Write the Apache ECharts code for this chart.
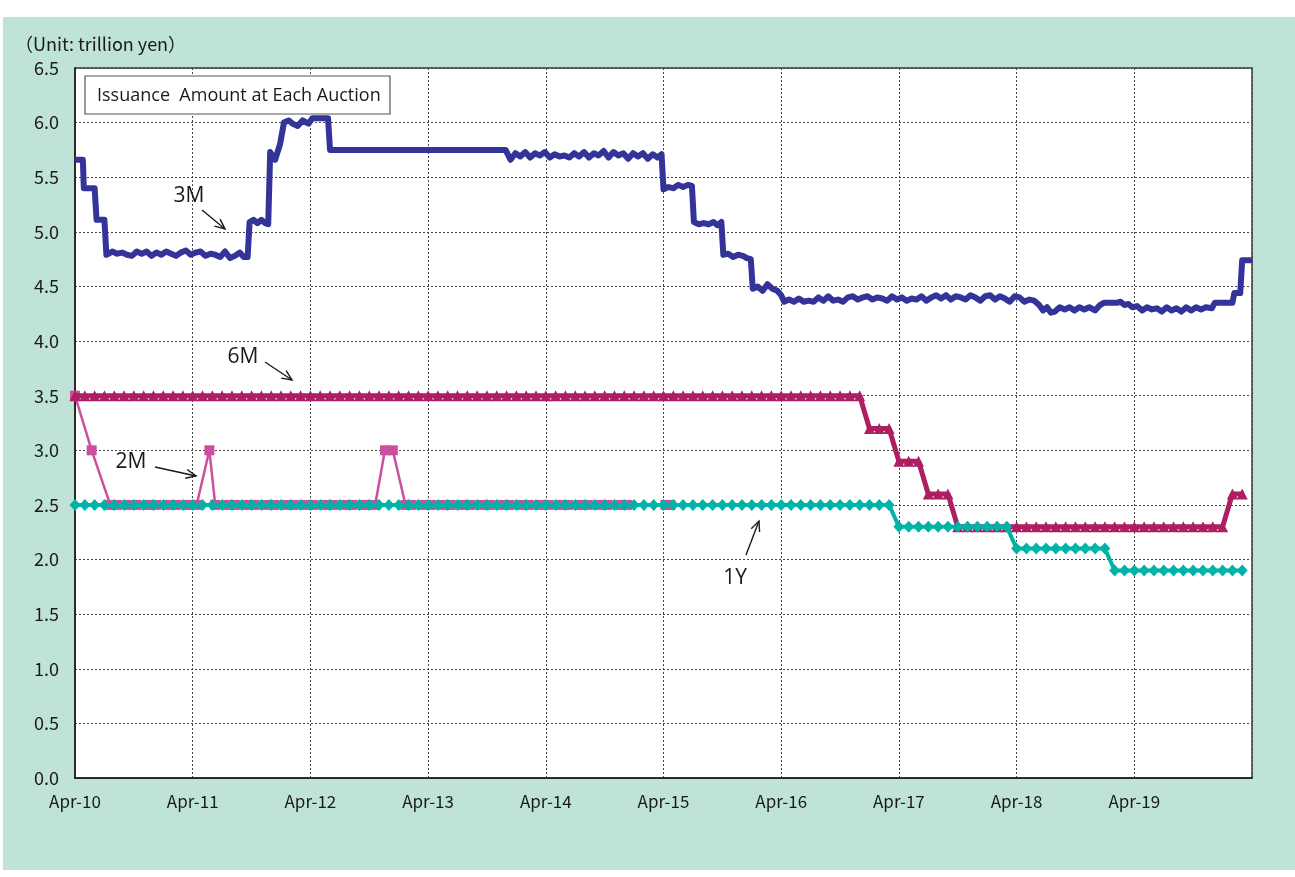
<!DOCTYPE html>
<html>
<head>
<meta charset="utf-8" />
<title>Issuance Amount at Each Auction</title>
<script src="https://cdn.jsdelivr.net/npm/echarts@6/dist/echarts.min.js"></script>
<style>
  html, body { margin: 0; padding: 0; background: #fff; overflow: hidden; }
  #chart { position: absolute; left: 3px; top: 17px; width: 1292px; height: 853px; }
</style>
</head>
<body>
<div id="chart"></div>
<script type="text/javascript">
// x values are months counted from Apr-2010
var xTickLabels = ['Apr-10', 'Apr-11', 'Apr-12', 'Apr-13', 'Apr-14', 'Apr-15', 'Apr-16', 'Apr-17', 'Apr-18', 'Apr-19', ''];

// 3M (auction by auction)
var threeMMonths = [
  0, 0.8, 0.9, 2.0, 2.2, 3.0, 3.2,
  3.8, 4.3, 4.8, 5.3, 5.8, 6.3, 6.8, 7.3, 7.8, 8.3, 8.8, 9.3, 9.8, 10.3, 10.8, 11.3, 11.8, 12.3, 12.8, 13.3, 13.8, 14.3, 14.8, 15.3, 15.8, 16.3, 16.8, 17.2, 17.6,
  17.8, 18.2, 18.6, 19.0, 19.4, 19.7,
  19.9, 20.4, 20.9, 21.3, 21.8, 22.2, 22.7, 23.2, 23.8, 24.2, 25.8,
  26.0, 43.9,
  44.4, 44.9, 45.4, 45.9, 46.4, 46.9, 47.4, 47.9, 48.4, 48.9,
  49.4, 49.9, 50.4, 50.9, 51.4, 51.9, 52.4, 52.9, 53.4, 53.9,
  54.4, 54.9, 55.4, 55.9, 56.4, 56.9, 57.4, 57.9, 58.4, 58.9,
  59.4, 59.8,
  60.0, 60.5, 61.0, 61.5, 62.0, 62.5, 62.9,
  63.1, 63.6, 64.1, 64.6, 65.1, 65.5, 65.9,
  66.1, 66.6, 67.1, 67.6, 68.1, 68.5, 68.9,
  69.1, 69.6, 70.1, 70.6, 71.1, 71.6, 72.0,
  72.3, 72.8, 73.3, 73.8, 74.3, 74.8, 75.3, 75.8, 76.3, 76.8,
  77.3, 77.8, 78.3, 78.8, 79.3, 79.8, 80.3, 80.8, 81.3, 81.8,
  82.3, 82.8, 83.3, 83.8, 84.3, 84.8, 85.3, 85.8, 86.3, 86.8,
  87.3, 87.8, 88.3, 88.8, 89.3, 89.8, 90.3, 90.8, 91.3, 91.8,
  92.3, 92.8, 93.3, 93.8, 94.3, 94.8, 95.3, 95.8, 96.3, 96.8,
  97.3, 97.8,
  98.3, 98.7, 99.1, 99.5, 99.9, 100.4, 100.9, 101.4, 101.9, 102.4, 102.9, 103.4, 104.0, 104.5,
  104.9, 106.2, 106.6, 107.0, 107.4,
  107.8, 108.3, 108.8, 109.3, 109.8, 110.3, 110.8, 111.3, 111.8, 112.3, 112.8, 113.3, 113.8, 114.3, 114.8, 115.3, 115.9,
  116.2, 118.0, 118.2, 118.8, 119.0, 120
];
var threeMValues = [
  5.66, 5.66, 5.40, 5.40, 5.11, 5.11, 4.79,
  4.82, 4.80, 4.81, 4.79, 4.78, 4.82, 4.80, 4.82, 4.78, 4.81, 4.79, 4.82, 4.80, 4.78, 4.81, 4.83, 4.79, 4.81, 4.82, 4.78, 4.80, 4.79, 4.77, 4.82, 4.76, 4.78, 4.81, 4.77, 4.77,
  5.09, 5.11, 5.08, 5.11, 5.08, 5.07,
  5.73, 5.66, 5.80, 6.00, 6.02, 5.99, 5.97, 6.02, 5.99, 6.04, 6.04,
  5.75, 5.75,
  5.66, 5.72, 5.69, 5.73, 5.68, 5.72, 5.70, 5.73, 5.68, 5.71,
  5.69, 5.70, 5.68, 5.72, 5.69, 5.73, 5.68, 5.72, 5.70, 5.74,
  5.68, 5.73, 5.70, 5.72, 5.67, 5.72, 5.69, 5.72, 5.67, 5.71,
  5.68, 5.71,
  5.39, 5.41, 5.40, 5.43, 5.41, 5.43, 5.42,
  5.09, 5.07, 5.08, 5.07, 5.09, 5.06, 5.09,
  4.79, 4.80, 4.77, 4.79, 4.78, 4.76, 4.75,
  4.48, 4.50, 4.46, 4.52, 4.48, 4.46, 4.42,
  4.36, 4.38, 4.36, 4.39, 4.36, 4.37, 4.36, 4.40, 4.37, 4.41,
  4.37, 4.38, 4.36, 4.40, 4.41, 4.38, 4.40, 4.41, 4.38, 4.40,
  4.39, 4.37, 4.41, 4.38, 4.40, 4.37, 4.39, 4.38, 4.41, 4.37,
  4.40, 4.42, 4.39, 4.42, 4.38, 4.41, 4.40, 4.38, 4.42, 4.40,
  4.37, 4.41, 4.42, 4.38, 4.41, 4.39, 4.36, 4.41, 4.40, 4.36,
  4.38, 4.37,
  4.33, 4.28, 4.31, 4.26, 4.27, 4.31, 4.29, 4.31, 4.28, 4.31, 4.29, 4.31, 4.28, 4.33,
  4.35, 4.35, 4.36, 4.33, 4.34,
  4.31, 4.32, 4.28, 4.31, 4.29, 4.30, 4.27, 4.31, 4.28, 4.30, 4.27, 4.31, 4.28, 4.31, 4.29, 4.31, 4.30,
  4.35, 4.35, 4.44, 4.44, 4.74, 4.74
];

// 6M and 1Y: one value per month, Apr-10 .. Mar-20
var sixMValues = [
  3.5, 3.5, 3.5, 3.5, 3.5, 3.5, 3.5, 3.5, 3.5, 3.5, 3.5, 3.5,
  3.5, 3.5, 3.5, 3.5, 3.5, 3.5, 3.5, 3.5, 3.5, 3.5, 3.5, 3.5,
  3.5, 3.5, 3.5, 3.5, 3.5, 3.5, 3.5, 3.5, 3.5, 3.5, 3.5, 3.5,
  3.5, 3.5, 3.5, 3.5, 3.5, 3.5, 3.5, 3.5, 3.5, 3.5, 3.5, 3.5,
  3.5, 3.5, 3.5, 3.5, 3.5, 3.5, 3.5, 3.5, 3.5, 3.5, 3.5, 3.5,
  3.5, 3.5, 3.5, 3.5, 3.5, 3.5, 3.5, 3.5, 3.5, 3.5, 3.5, 3.5,
  3.5, 3.5, 3.5, 3.5, 3.5, 3.5, 3.5, 3.5, 3.5, 3.2, 3.2, 3.2,
  2.9, 2.9, 2.9, 2.6, 2.6, 2.6, 2.3, 2.3, 2.3, 2.3, 2.3, 2.3,
  2.3, 2.3, 2.3, 2.3, 2.3, 2.3, 2.3, 2.3, 2.3, 2.3, 2.3, 2.3,
  2.3, 2.3, 2.3, 2.3, 2.3, 2.3, 2.3, 2.3, 2.3, 2.3, 2.6, 2.6
];
var oneYValues = [
  2.5, 2.5, 2.5, 2.5, 2.5, 2.5, 2.5, 2.5, 2.5, 2.5, 2.5, 2.5,
  2.5, 2.5, 2.5, 2.5, 2.5, 2.5, 2.5, 2.5, 2.5, 2.5, 2.5, 2.5,
  2.5, 2.5, 2.5, 2.5, 2.5, 2.5, 2.5, 2.5, 2.5, 2.5, 2.5, 2.5,
  2.5, 2.5, 2.5, 2.5, 2.5, 2.5, 2.5, 2.5, 2.5, 2.5, 2.5, 2.5,
  2.5, 2.5, 2.5, 2.5, 2.5, 2.5, 2.5, 2.5, 2.5, 2.5, 2.5, 2.5,
  2.5, 2.5, 2.5, 2.5, 2.5, 2.5, 2.5, 2.5, 2.5, 2.5, 2.5, 2.5,
  2.5, 2.5, 2.5, 2.5, 2.5, 2.5, 2.5, 2.5, 2.5, 2.5, 2.5, 2.5,
  2.3, 2.3, 2.3, 2.3, 2.3, 2.3, 2.3, 2.3, 2.3, 2.3, 2.3, 2.3,
  2.1, 2.1, 2.1, 2.1, 2.1, 2.1, 2.1, 2.1, 2.1, 2.1, 1.9, 1.9,
  1.9, 1.9, 1.9, 1.9, 1.9, 1.9, 1.9, 1.9, 1.9, 1.9, 1.9, 1.9
];

// 2M (irregular auctions)
var twoMMonths = [
  0, 1.7,
  3.6, 4.3, 5.6, 6.3, 7.6, 8.3, 9.6, 10.3, 11.6, 12.4,
  13.7,
  14.3, 15.6, 16.3, 17.6, 18.3, 19.6, 20.3, 21.6, 22.3, 23.6, 24.3, 25.6, 26.3, 27.6, 28.3, 29.6, 30.6,
  31.6, 32.4,
  33.7, 34.3, 35.6, 36.3, 37.6, 38.3, 39.6, 40.3, 41.6, 42.3, 43.6, 44.3, 45.6, 46.3, 47.6, 48.3, 49.6, 50.3, 51.6, 52.3, 53.6, 54.3, 55.6, 56.3, 60.2, 60.7
];
var twoMValues = [
  3.5, 3.0,
  2.5, 2.5, 2.5, 2.5, 2.5, 2.5, 2.5, 2.5, 2.5, 2.5,
  3.0,
  2.5, 2.5, 2.5, 2.5, 2.5, 2.5, 2.5, 2.5, 2.5, 2.5, 2.5, 2.5, 2.5, 2.5, 2.5, 2.5, 2.5,
  3.0, 3.0,
  2.5, 2.5, 2.5, 2.5, 2.5, 2.5, 2.5, 2.5, 2.5, 2.5, 2.5, 2.5, 2.5, 2.5, 2.5, 2.5, 2.5, 2.5, 2.5, 2.5, 2.5, 2.5, 2.5, 2.5, 2.5, 2.5
];

function pairs(xs, ys) {
  var out = [];
  for (var i = 0; i < ys.length; i++) out.push([xs[i], ys[i]]);
  return out;
}
function monthly(ys) {
  var out = [];
  for (var i = 0; i < ys.length; i++) out.push([i, ys[i]]);
  return out;
}

// open arrow for the annotations
function arrow(x1, y1, x2, y2) {
  var a = Math.atan2(y2 - y1, x2 - x1), len = 11, sp = 0.42;
  return [
    { type: 'line', z: 50, shape: { x1: x1, y1: y1, x2: x2, y2: y2 }, style: { stroke: '#1a1a1a', lineWidth: 1.4 } },
    { type: 'polyline', z: 50, shape: { points: [
        [x2 - len * Math.cos(a - sp), y2 - len * Math.sin(a - sp)], [x2, y2],
        [x2 - len * Math.cos(a + sp), y2 - len * Math.sin(a + sp)]] },
      style: { stroke: '#1a1a1a', lineWidth: 1.4, fill: null } }
  ];
}
function label(text, x, y) {
  return { type: 'text', z: 50, style: { text: text, x: x, y: y, fill: '#1a1a1a',
    font: '21px "Open Sans", "Noto Sans", sans-serif', align: 'center', verticalAlign: 'middle',
    textAlign: 'center', textVerticalAlign: 'middle' } };
}

var tickFont = 'Noto Sans CJK JP';
var myChart = echarts.init(document.getElementById('chart'));

var option = {
  backgroundColor: '#bfe3d8',
  animation: false,
  grid: {
    left: 72, right: 43, top: 51, bottom: 92,
    show: true, backgroundColor: '#ffffff', borderColor: '#3a3a3a', borderWidth: 1.5
  },
  xAxis: {
    type: 'value', min: 0, max: 120, interval: 12,
    axisLine: { show: true, onZero: false, lineStyle: { color: '#1a1a1a', width: 1.5 } },
    axisTick: { show: false },
    axisLabel: {
      margin: 15, color: '#1a1a1a', fontSize: 17, fontFamily: tickFont,
      formatter: function (v) { return xTickLabels[Math.round(v / 12)] || ''; }
    },
    splitLine: { show: true, lineStyle: { color: '#444', width: 1, type: [2, 2] } }
  },
  yAxis: {
    type: 'value', min: 0, max: 6.5, interval: 0.5,
    axisLine: { show: true, lineStyle: { color: '#1a1a1a', width: 1.5 } },
    axisTick: { show: false },
    axisLabel: {
      margin: 16, color: '#1a1a1a', fontSize: 18, fontFamily: tickFont,
      formatter: function (v) { return v.toFixed(1); }
    },
    splitLine: { show: true, lineStyle: { color: '#444', width: 1, type: [2, 2] } }
  },
  series: [
    {
      name: '2M', type: 'line', z: 2, data: pairs(twoMMonths, twoMValues),
      symbol: 'rect', symbolSize: 10, showSymbol: true, showAllSymbol: true,
      lineStyle: { color: '#cc4f9f', width: 2.5 }, itemStyle: { color: '#cc4f9f' }
    },
    {
      name: '6M', type: 'line', z: 3, data: monthly(sixMValues),
      symbol: 'triangle', symbolSize: 11, showSymbol: true, showAllSymbol: true,
      lineStyle: { color: '#ad1e62', width: 5 }, itemStyle: { color: '#ad1e62' }
    },
    {
      name: '1Y', type: 'line', z: 4, data: monthly(oneYValues),
      symbol: 'diamond', symbolSize: [11, 12], showSymbol: true, showAllSymbol: true,
      lineStyle: { color: '#00b3a7', width: 4 }, itemStyle: { color: '#00b3a7' }
    },
    {
      name: '3M', type: 'line', z: 5, data: pairs(threeMMonths, threeMValues),
      symbol: 'none', lineStyle: { color: '#333399', width: 6, join: 'round' }
    }
  ],
  graphic: [
    { type: 'text', z: 50, style: { text: '（Unit: trillion yen）', x: 12, y: 27, fill: '#1a1a1a',
      font: '18px "Noto Sans CJK JP"', verticalAlign: 'middle', textVerticalAlign: 'middle' } },
    { type: 'rect', z: 40, shape: { x: 82, y: 59, width: 305, height: 38 },
      style: { fill: '#ffffff', stroke: '#555', lineWidth: 1.2 } },
    { type: 'text', z: 50, style: { text: 'Issuance  Amount at Each Auction', x: 94, y: 79, fill: '#1a1a1a',
      font: '18px "Open Sans", "Noto Sans", sans-serif', verticalAlign: 'middle', textVerticalAlign: 'middle' } },
    label('3M', 186, 179),
    label('6M', 240, 340),
    label('2M', 128, 445),
    label('1Y', 732, 561)
  ].concat(arrow(199, 193, 222, 212))
   .concat(arrow(262, 345, 289, 363))
   .concat(arrow(152, 450, 193, 459))
   .concat(arrow(743, 538, 756, 504))
};

myChart.setOption(option);
</script>
</body>
</html>
